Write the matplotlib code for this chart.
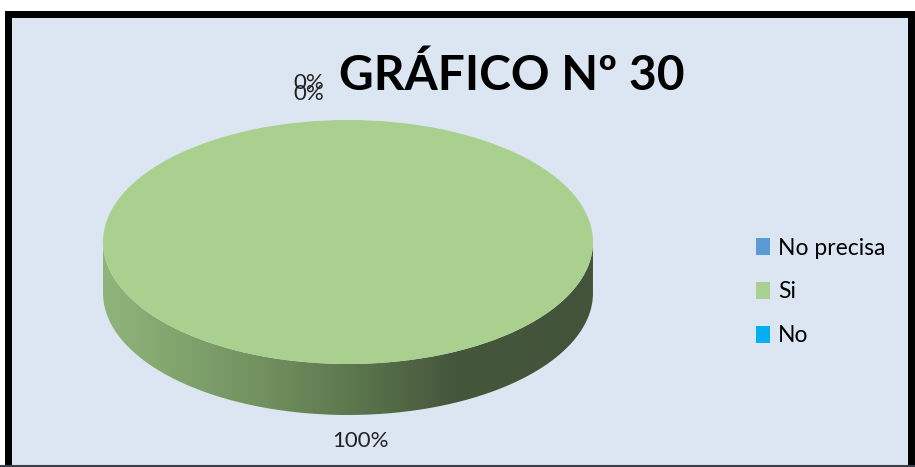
import numpy as np
import matplotlib.pyplot as plt
from matplotlib.patches import Rectangle, PathPatch
from matplotlib.path import Path
from matplotlib.colors import LinearSegmentedColormap
from matplotlib.lines import Line2D

plt.rcParams['font.family'] = ['Lato', 'DejaVu Sans']

# data
labels = ["No precisa", "Si", "No"]
values = [0, 100, 0]
colors = ["#5b9bd5", "#a9d08e", "#00b0f0"]
title = "GRÁFICO Nº 30"

W, H = 915, 467
fig = plt.figure(figsize=(W / 100, H / 100), dpi=100)
fig.patch.set_facecolor("white")

# chart area frame
frame = Rectangle((7.5 / W, -0.05), (911 - 7.5) / W, 1.05 - 13.5 / H,
                  transform=fig.transFigure, facecolor="#dce6f2",
                  edgecolor="black", linewidth=5.0, zorder=0)
fig.add_artist(frame)
fig.add_artist(Line2D([0, 1], [1.5 / H, 1.5 / H], transform=fig.transFigure,
                      color="#3b3f47", linewidth=1.5))

# pie axes: center (348, 242) px, radii 245 x 122 px
cx, cy, rx, ry = 348, 242, 245, 122
x0, x1, y0, y1 = -1.3, 1.3, -1.75, 1.45
ax = fig.add_axes([(cx + x0 * rx) / W, 1 - (cy - y0 * ry) / H,
                   (x1 - x0) * rx / W, (y1 - y0) * ry / H])
ax.patch.set_visible(False)

wedges, _ = ax.pie(values, colors=colors, startangle=90, counterclock=False,
                   wedgeprops=dict(linewidth=0))

# side of the 3D pie (front half)
d = 51 / ry
t = np.linspace(np.pi, 2 * np.pi, 300)
top = np.column_stack([np.cos(t), np.sin(t)])
bot = np.column_stack([np.cos(t[::-1]), np.sin(t[::-1]) - d])
side = PathPatch(Path(np.vstack([top, bot, top[:1]])), facecolor="none",
                 edgecolor="none")
ax.add_patch(side)
cmap = LinearSegmentedColormap.from_list(
    "side", [(0, "#90b57c"), (0.35, "#6f8e5c"), (0.72, "#45573b"), (1, "#42533a")])
grad = np.linspace(0, 1, 256).reshape(1, -1)
im = ax.imshow(grad, cmap=cmap, extent=[-1, 1, -1 - d, 0.01], aspect="auto",
               zorder=0.5)
im.set_clip_path(side)

ax.set_aspect("auto")
ax.set_xlim(x0, x1)
ax.set_ylim(y0, y1)
ax.axis("off")

# percentage labels (the two 0% labels overlap, as in the original)
pcts = [f"{v / sum(values) * 100:.0f}%" for v in values]
ax.text(-0.16, 1.30, pcts[0], ha="center", va="center", fontsize=16, color="#222222")
ax.text(-0.16, 1.21, pcts[2], ha="center", va="center", fontsize=16, color="#222222")
ax.text(0.05, -1.63, pcts[1], ha="center", va="center", fontsize=16, color="#222222")

fig.text(512 / W, 1 - 90 / H, title, ha="center", va="baseline",
         fontsize=34.5, fontweight="bold", color="black")

fig.legend(wedges, labels, loc="center left", bbox_to_anchor=(756 / W, 1 - 292 / H),
           frameon=False, fontsize=16.5, handlelength=0.62, handleheight=0.75,
           handletextpad=0.35, labelspacing=1.0, borderpad=0, borderaxespad=0)

fig.savefig("out.png", dpi=100)
